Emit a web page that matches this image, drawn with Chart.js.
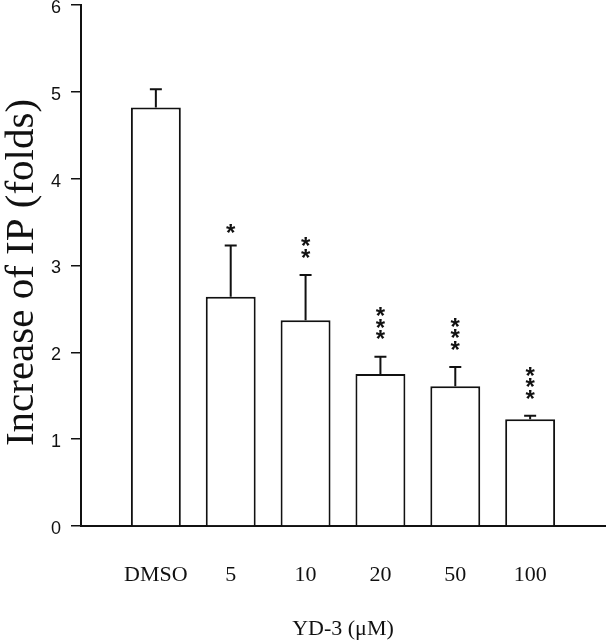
<!DOCTYPE html>
<html>
<head>
<meta charset="utf-8">
<script src="https://cdn.jsdelivr.net/npm/chart.js@4.4.0/dist/chart.umd.min.js"></script>
<style>
  html, body { margin: 0; padding: 0; background: #fff; }
  #wrap { width: 606px; height: 640px; position: relative; }
</style>
</head>
<body>
<div id="wrap"><canvas id="c" width="606" height="640"></canvas></div>
<script>
const categories = ['DMSO', '5', '10', '20', '50', '100'];
const meanValues = [4.82, 2.64, 2.37, 1.75, 1.61, 1.23];
const semValues = [0.21, 0.59, 0.52, 0.20, 0.22, 0.04];
const significance = ['', '*', '**', '***', '***', '***'];
const yTicks = [0, 1, 2, 3, 4, 5, 6];
const xTitle = 'YD-3 (\u03BCM)';
const yTitle = 'Increase of IP (folds)';

const labels = [''].concat(categories).concat(['']);
const barData = [null].concat(meanValues).concat([null]);
const semData = [null].concat(semValues).concat([null]);
const sigData = [''].concat(significance).concat(['']);

const ink = '#111';

const errorPlugin = {
  id: 'errorBars',
  afterDatasetsDraw(chart) {
    const ctx = chart.ctx;
    const meta = chart.getDatasetMeta(0);
    const ys = chart.scales.y;
    ctx.save();
    ctx.strokeStyle = ink;
    ctx.fillStyle = ink;
    ctx.lineWidth = 2;
    meta.data.forEach((bar, i) => {
      if (barData[i] == null) return;
      const x = bar.x;
      const yTop = ys.getPixelForValue(barData[i] + semData[i]);
      const yBase = ys.getPixelForValue(barData[i]);
      ctx.beginPath();
      ctx.moveTo(x, yBase);
      ctx.lineTo(x, yTop);
      ctx.moveTo(x - 6, yTop);
      ctx.lineTo(x + 6, yTop);
      ctx.stroke();
      const stars = sigData[i];
      if (stars) {
        const size = 24;
        ctx.font = 'bold ' + size + 'px "Liberation Sans", Arial, sans-serif';
        ctx.textAlign = 'center';
        ctx.textBaseline = 'alphabetic';
        const gap = stars.length === 1 ? 18 : 23;
        for (let k = 0; k < stars.length; k++) {
          const cy = yTop - gap - k * 11.5;
          ctx.fillText('*', x, cy + 0.575 * size);
        }
      }
    });
    const area = chart.chartArea;
    ctx.save();
    ctx.translate(22, (area.top + area.bottom) / 2 + 7);
    ctx.rotate(-Math.PI / 2);
    ctx.font = '41px "Liberation Serif", "Times New Roman", serif';
    ctx.textAlign = 'center';
    ctx.textBaseline = 'middle';
    ctx.fillStyle = ink;
    ctx.fillText(yTitle, 0, 0);
    ctx.restore();
    ctx.restore();
  }
};

new Chart(document.getElementById('c'), {
  type: 'bar',
  data: {
    labels: labels,
    datasets: [{
      data: barData,
      backgroundColor: '#fff',
      borderColor: ink,
      borderWidth: 2,
      borderSkipped: 'bottom',
      barPercentage: 0.667,
      categoryPercentage: 1
    }]
  },
  options: {
    responsive: false,
    animation: false,
    devicePixelRatio: 1,
    layout: { padding: { top: 5, right: 1, left: 0, bottom: 0 } },
    plugins: { legend: { display: false }, tooltip: { enabled: false } },
    scales: {
      x: {
        type: 'category',
        offset: false,
        grid: { display: true, drawOnChartArea: false, drawTicks: true, tickLength: 36, color: 'rgba(0,0,0,0)' },
        border: { display: true, color: ink, width: 2 },
        ticks: {
          padding: 0,
          color: ink,
          autoSkip: false,
          maxRotation: 0,
          font: { family: '"Liberation Serif", "Times New Roman", serif', size: 22 }
        },
        title: {
          display: true,
          text: xTitle,
          color: ink,
          padding: { top: 0, bottom: 0 },
          font: { family: '"Liberation Serif", "Times New Roman", serif', size: 22, lineHeight: 1.0 }
        },
        afterFit(scale) { scale.height = 114; scale.paddingLeft = 0; scale.paddingRight = 0; }
      },
      y: {
        min: 0,
        max: 6,
        afterBuildTicks(scale) { scale.ticks = yTicks.map(v => ({ value: v })); },
        grid: {
          drawOnChartArea: false,
          drawTicks: true,
          tickLength: 10,
          color: ink,
          lineWidth: 1.5
        },
        border: { display: true, color: ink, width: 2 },
        ticks: {
          padding: 10,
          labelOffset: 3,
          color: ink,
          font: { family: '"Liberation Sans", Arial, sans-serif', size: 18 }
        },
        title: { display: false },
        afterFit(scale) { scale.width = 81; scale.paddingTop = 0; scale.paddingBottom = 0; }
      }
    }
  },
  plugins: [errorPlugin]
});
</script>
</body>
</html>
